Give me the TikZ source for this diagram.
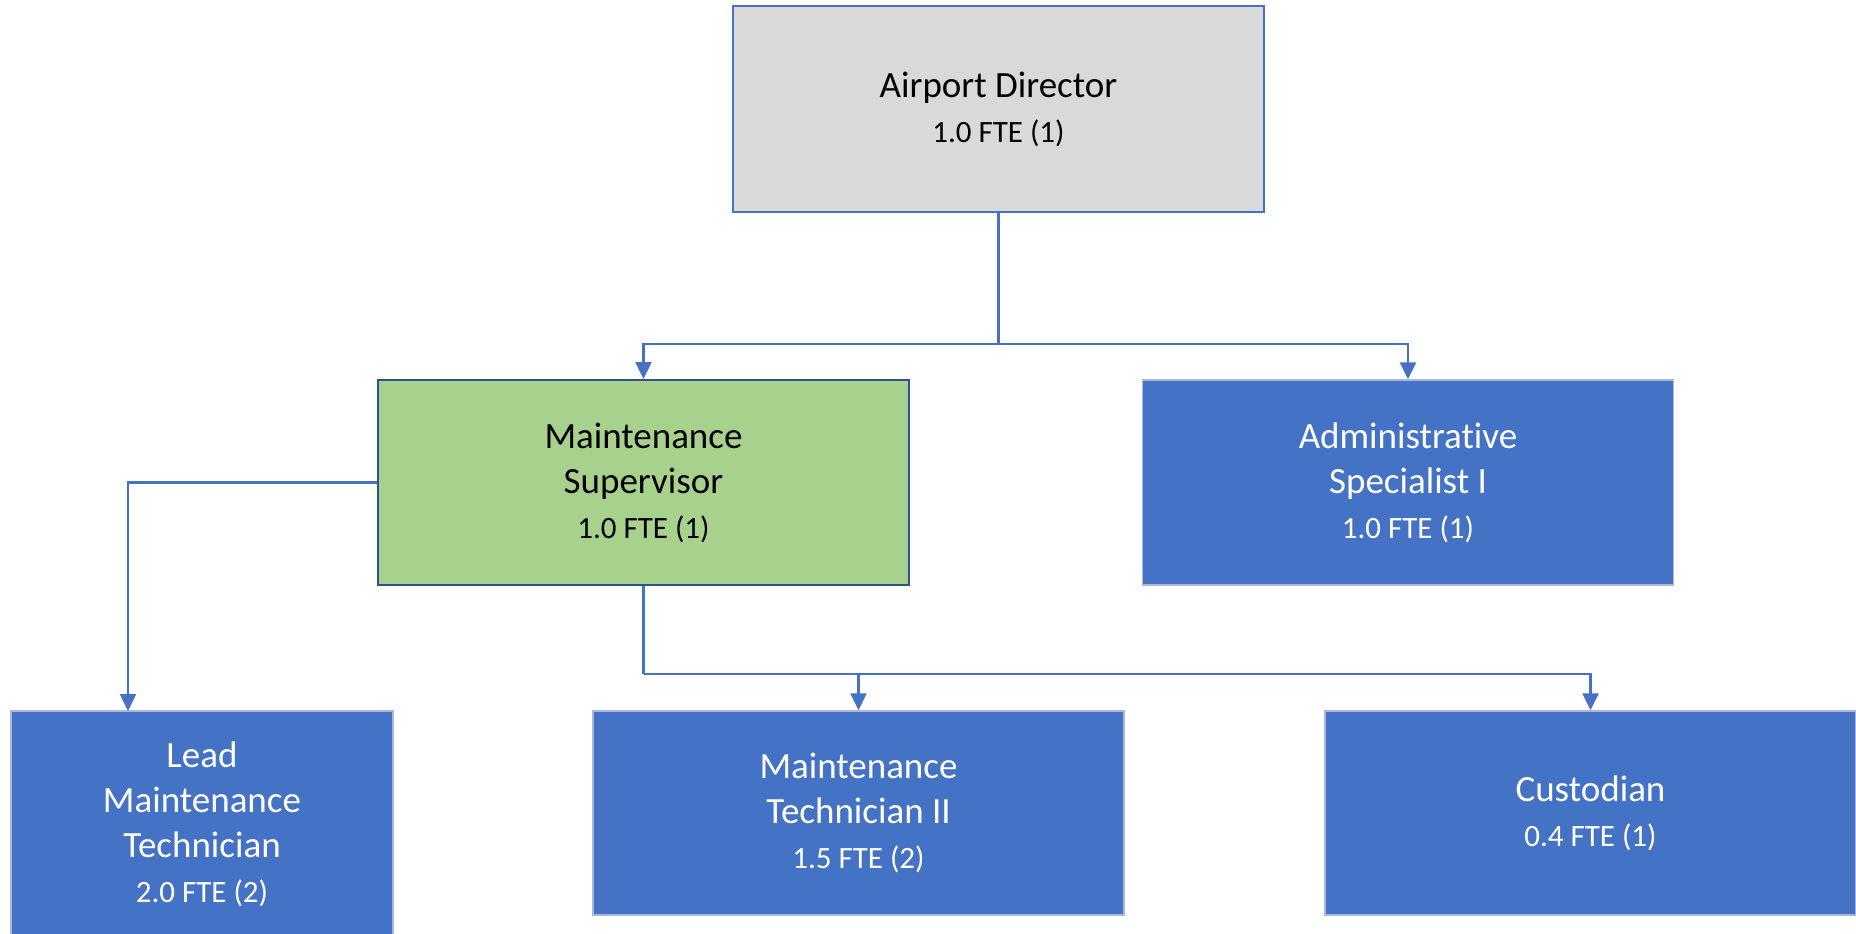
\documentclass[tikz,border=0pt]{standalone}
\usepackage{fontspec}
\setmainfont{Carlito}[Ligatures=NoCommon]
\usetikzlibrary{arrows.meta}
\definecolor{cblue}{HTML}{4472C4}
\definecolor{cgray}{HTML}{D9D9D9}
\definecolor{cgreen}{HTML}{A9D18E}
\definecolor{cdark}{HTML}{2F528F}
\definecolor{cedge}{HTML}{A9B8DA}
\newcommand{\ftefont}{\fontsize{31}{41}\selectfont}
\tikzset{
  box/.style={rectangle, minimum width=531pt, minimum height=205pt, inner sep=0pt,
    align=center, font=\fontsize{37}{45}\selectfont},
  topbox/.style={box, fill=cgray, draw=cblue, line width=2pt, text=black},
  greenbox/.style={box, fill=cgreen, draw=cdark, line width=2pt, text=black},
  bluebox/.style={box, fill=cblue, draw=cedge, line width=1.5pt, text=white},
  conn/.style={draw=cblue, line width=2.5pt},
  arr/.style={conn, -{Triangle[width=16pt,length=17pt]}}
}
\begin{document}
\begin{tikzpicture}[x=1pt,y=-1pt]
\useasboundingbox (0,0) rectangle (1856,934);
\node[topbox, minimum height=206pt] (ad) at (998.5,109) {Airport Director\\{\ftefont 1.0 FTE (1)}};
\node[greenbox] (ms) at (643.5,482.5) {Maintenance\\Supervisor\\{\ftefont 1.0 FTE (1)}};
\node[bluebox] (as) at (1408,482.5) {Administrat\kern0pt ive\\Specialist I\\{\ftefont 1.0 FTE (1)}};
\node[bluebox, minimum width=382pt, minimum height=226pt] (lt) at (202,824) {Lead\\Maintenance\\Technician\\{\ftefont 2.0 FTE (2)}};
\node[bluebox, minimum height=204pt] (mt) at (858.5,813) {Maintenance\\Technician II\\{\ftefont 1.5 FTE (2)}};
\node[bluebox, minimum height=204pt] (cu) at (1590.5,813) {Custodian\\{\ftefont 0.4 FTE (1)}};
\coordinate (j1) at (998.5,344);
\coordinate (j2) at (643.5,674);
\coordinate (ltin) at (128,711);
\draw[conn] (ad.south) -- (j1);
\draw[arr] (j1) -| (ms.north);
\draw[arr] (j1) -| (as.north);
\draw[arr] (ms.west) -| (ltin);
\draw[conn] (ms.south) -- (j2);
\draw[arr] (j2) -| (mt.north);
\draw[arr] (j2) -| (cu.north);
\end{tikzpicture}
\end{document}
